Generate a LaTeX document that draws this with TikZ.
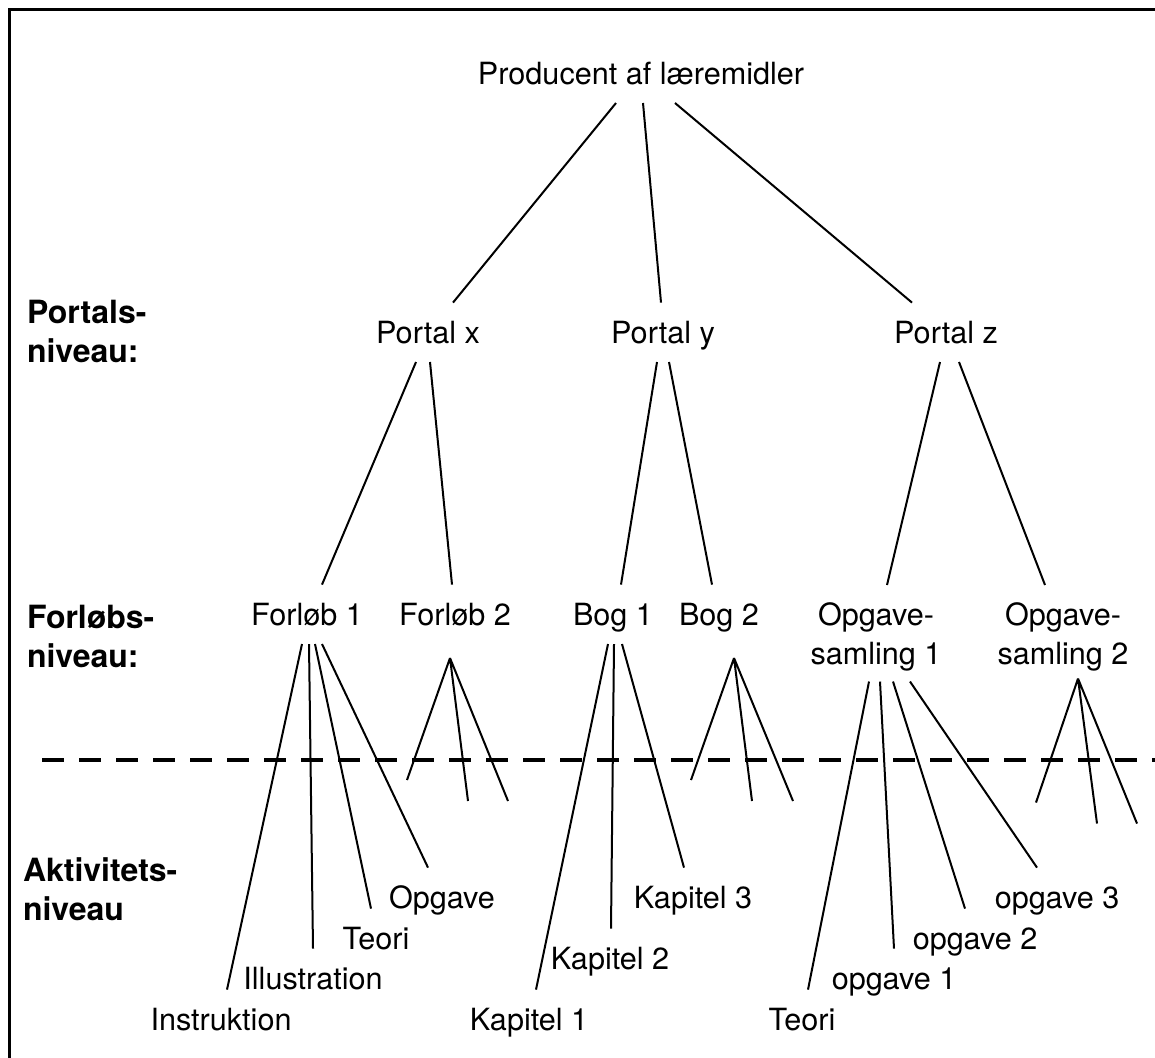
\documentclass[tikz,border=0pt]{standalone}
\usepackage{fontspec}
\setmainfont{TeX Gyre Heros}
\usetikzlibrary{calc}
\newcommand*{\picw}{1155}
\newcommand*{\pich}{1057}
\newcommand*{\txtfont}{\fontsize{15.3}{19.5}\selectfont}
\newcommand*{\sidefont}{\fontsize{16}{19.5}\selectfont\bfseries}

\begin{document}
\begin{tikzpicture}[x=0.5pt, y=-0.5pt,
    every node/.style={font=\txtfont, inner sep=0pt, outer sep=0pt},
    lvl/.style={text height=10.7pt, text depth=0pt, inner ysep=9.5pt, anchor=base},
    lvltwo/.style={align=center, anchor=north},
    side/.style={align=left, anchor=north west, font=\sidefont},
    link/.style={line width=1pt}]
    \useasboundingbox (0,0) rectangle (\picw,\pich);
    \draw [line width=1.25pt] (9.3,\pich+50) -- (9.3,9.3) -- (\picw+50,9.3);

    % levels
    \node [side] (lvportal) at (27,300) {Portals-\\niveau:};
    \node [side] (lvforl)   at (27,605) {Forløbs-\\niveau:};
    \node [side] (lvakt)    at (23,858) {Aktivitets-\\niveau};
    \draw [line width=2pt, dash pattern=on 11pt off 7.5pt] (42,760) -- (\picw,760);

    % tree
    \node [lvl] (prod)  at (641,84)  {Producent af læremidler};
    \node [lvl] (portx) at (428,343) {Portal x};
    \node [lvl] (porty) at (663,343) {Portal y};
    \node [lvl] (portz) at (946,343) {Portal z};
    \node [lvl] (forl1) at (307,625) {Forløb 1};
    \node [lvl] (forl2) at (455,625) {Forløb 2};
    \node [lvl] (bog1)  at (613,625) {Bog 1};
    \node [lvl] (bog2)  at (719,625) {Bog 2};
    \node [lvltwo] (saml1) at (876,603)  {Opgave-\\samling 1};
    \node [lvltwo] (saml2) at (1063,603) {Opgave-\\samling 2};

    \node [lvl] (instr)  at (221,1030) {Instruktion};
    \node [lvl] (illu)   at (313,989)  {Illustration};
    \node [lvl] (teori)  at (376,949)  {Teori};
    \node [lvl] (opg)    at (442,908)  {Opgave};
    \node [lvl] (kap1)   at (529,1030) {Kapitel 1};
    \node [lvl] (kap2)   at (610,969)  {Kapitel 2};
    \node [lvl] (kap3)   at (693,908)  {Kapitel 3};
    \node [lvl] (teori2) at (802,1030) {Teori};
    \node [lvl] (opgv1)  at (894,989)  {opgave 1};
    \node [lvl] (opgv2)  at (975,949)  {opgave 2};
    \node [lvl] (opgv3)  at (1057,908) {opgave 3};

    \draw [link] ($(prod.south)+(-25,0)$) -- ($(portx.north)+(25,0)$);
    \draw [link] ($(prod.south)+(2,0)$)   -- ($(porty.north)+(-2,0)$);
    \draw [link] ($(prod.south)+(34,0)$)  -- ($(portz.north)+(-34,0)$);

    \draw [link] ($(portx.south)+(-12,0)$) -- ($(forl1.north)+(15,0)$);
    \draw [link] ($(portx.south)+(2,0)$)   -- ($(forl2.north)+(-3,0)$);
    \draw [link] ($(porty.south)+(-6,0)$)  -- ($(bog1.north)+(8,0)$);
    \draw [link] ($(porty.south)+(6,0)$)   -- ($(bog2.north)+(-7,0)$);
    \draw [link] ($(portz.south)+(-6,0)$)  -- ($(saml1.north)+(11,-18)$);
    \draw [link] ($(portz.south)+(13,0)$)  -- ($(saml2.north)+(-18,-18)$);

    \foreach \dx/\ch/\cx in {-5/instr/6, 2/illu/0, 8/teori/-5, 15/opg/-14}
        \draw [link] ($(forl1.south)+(\dx,0)$) -- ($(\ch.north)+(\cx,0)$);
    \foreach \dx/\ch/\cx in {-5/kap1/7, 1/kap2/1, 9/kap3/-9}
        \draw [link] ($(bog1.south)+(\dx,0)$) -- ($(\ch.north)+(\cx,0)$);
    \foreach \dx/\ch/\cx in {-7/teori2/6, 4/opgv1/0, 17/opgv2/-10, 34/opgv3/-20}
        \draw [link] ($(saml1.south)+(\dx,10)$) -- ($(\ch.north)+(\cx,0)$);

    % open fans
    \coordinate (f2top) at ($(forl2.south)+(-5,14)$);
    \coordinate (b2top) at ($(bog2.south)+(15,14)$);
    \coordinate (s2top) at ($(saml2.south)+(15,7)$);
    \draw [link] (f2top) -- ++(-43,122) (f2top) -- ++(18,143) (f2top) -- ++(58,143);
    \draw [link] (b2top) -- ++(-43,122) (b2top) -- ++(18,143) (b2top) -- ++(59,143);
    \draw [link] (s2top) -- ++(-42,124) (s2top) -- ++(19,145) (s2top) -- ++(59,145);
\end{tikzpicture}
\end{document}
